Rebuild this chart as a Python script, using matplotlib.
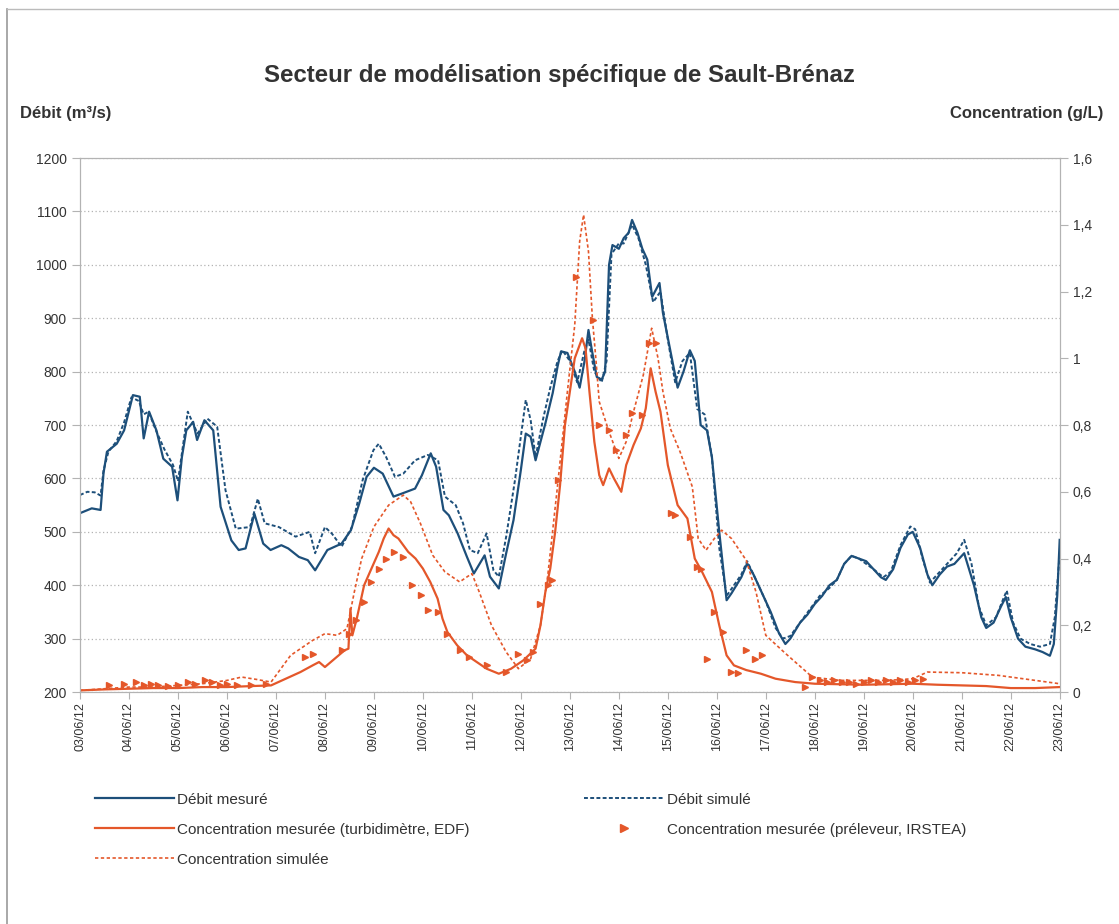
import numpy as np
import pandas as pd
import matplotlib
matplotlib.use('Agg')
import matplotlib.pyplot as plt
import matplotlib.dates as mdates
from matplotlib.ticker import FuncFormatter, MultipleLocator
from matplotlib.lines import Line2D

plt.rcParams['font.family'] = ['Liberation Sans', 'DejaVu Sans']

# --- data (days after 03/06/2012) ---
start = pd.Timestamp('2012-06-03')

q_mes_d = [0.00, 0.24, 0.42, 0.48, 0.55, 0.75, 0.90, 1.08, 1.22, 1.30, 1.41, 1.56, 1.70, 1.88, 1.99,
           2.08, 2.17, 2.31, 2.39, 2.54, 2.72, 2.87, 3.09, 3.24, 3.38, 3.56, 3.74, 3.89, 4.11, 4.25,
           4.47, 4.65, 4.80, 5.05, 5.34, 5.53, 5.70, 5.85, 6.00, 6.18, 6.40, 6.58, 6.84, 6.98, 7.16,
           7.27, 7.42, 7.53, 7.71, 7.90, 8.04, 8.26, 8.37, 8.55, 8.70, 8.85, 9.00, 9.10, 9.20, 9.30,
           9.50, 9.65, 9.75, 9.82, 9.95, 10.10, 10.20, 10.30, 10.38, 10.45, 10.55,
           10.65, 10.72, 10.80, 10.87, 11.00, 11.10, 11.20, 11.27, 11.38, 11.48, 11.58, 11.68, 11.83,
           11.90, 12.05, 12.20, 12.32, 12.45, 12.55, 12.67, 12.80, 12.90, 13.05, 13.20, 13.30, 13.40,
           13.50, 13.62, 13.75, 13.95, 14.10, 14.27, 14.40, 14.50, 14.70, 14.85, 15.00, 15.15, 15.30,
           15.45, 15.60, 15.75, 15.90, 16.05, 16.20, 16.35, 16.45, 16.60, 16.75, 16.90, 17.00, 17.15,
           17.30, 17.40, 17.55, 17.70, 17.85, 18.00, 18.05, 18.25, 18.40, 18.50, 18.65, 18.80, 18.90,
           19.00, 19.15, 19.30, 19.50, 19.65, 19.80, 19.88, 19.95, 20.00]
q_mes = [535, 544, 541, 610, 650, 665, 690, 756, 753, 675, 725, 690, 637, 622, 559,
         640, 690, 706, 672, 709, 690, 547, 484, 466, 469, 534, 478, 466, 475, 469,
         453, 447, 428, 466, 478, 503, 553, 603, 620, 609, 566, 572, 581, 606, 647,
         622, 541, 531, 497, 453, 422, 456, 416, 394, 460, 522, 616, 684, 678, 634,
         703, 760, 810, 838, 835, 800, 770, 820, 878, 840, 790,
         785, 800, 1000, 1037, 1030, 1050, 1060, 1084, 1060, 1030, 1010, 940, 966,
         910, 840, 770, 800, 840, 820, 700, 690, 640, 500, 372, 385, 400,
         415, 441, 420, 380, 350, 310, 290, 300, 330, 345, 365, 380, 400,
         410, 440, 455, 450, 445, 430, 415, 410, 430, 470, 495, 500, 470,
         420, 400, 420, 435, 440, 455, 460, 400, 340, 320, 330, 360, 378,
         340, 300, 285, 280, 275, 268, 290, 380, 485]

q_sim_d = [0.00, 0.15, 0.30, 0.42, 0.48, 0.58, 0.75, 0.90, 1.05, 1.20, 1.30, 1.40, 1.55, 1.72, 1.90,
           2.00, 2.10, 2.20, 2.40, 2.60, 2.80, 2.97, 3.18, 3.47, 3.63, 3.77, 4.06, 4.40, 4.69, 4.80,
           5.00, 5.14, 5.34, 5.55, 5.77, 5.99, 6.10, 6.25, 6.43, 6.60, 6.84, 7.10, 7.31, 7.45, 7.67,
           7.82, 7.96, 8.12, 8.30, 8.44, 8.55, 8.70, 8.88, 9.10, 9.20, 9.30, 9.45, 9.60, 9.75, 9.85,
           10.00, 10.15, 10.30, 10.38, 10.50, 10.65, 10.75, 10.85, 11.00, 11.10, 11.27, 11.40, 11.55,
           11.70, 11.85, 12.00, 12.15, 12.30, 12.45, 12.60, 12.75, 12.90, 13.05, 13.20, 13.35, 13.50,
           13.62, 13.80, 14.00, 14.20, 14.35, 14.50, 14.70, 14.90, 15.10, 15.30, 15.45, 15.60, 15.75,
           15.90, 16.05, 16.20, 16.40, 16.55, 16.75, 16.95, 17.05, 17.20, 17.35, 17.50, 17.70, 17.90,
           18.05, 18.20, 18.35, 18.50, 18.70, 18.85, 18.92, 19.05, 19.20, 19.40, 19.60, 19.80, 19.90,
           20.00]
q_sim = [569, 575, 574, 568, 615, 650, 670, 705, 752, 745, 720, 725, 690, 655, 625,
         595, 660, 725, 684, 712, 697, 578, 506, 509, 562, 516, 509, 491, 500, 460,
         509, 497, 472, 509, 597, 653, 665, 640, 603, 609, 634, 644, 634, 566, 550,
         516, 466, 460, 497, 428, 416, 491, 597, 747, 709, 640, 710, 770, 820, 840,
         820, 780, 840, 860, 800, 780, 820, 1020, 1040, 1040, 1075, 1050, 1000,
         930, 950, 860, 780, 820, 835, 730, 720, 640, 470, 380, 400, 420,
         445, 410, 370, 320, 300, 305, 330, 355, 380, 395, 410, 440, 455,
         450, 440, 430, 415, 425, 475, 510, 505, 450, 405, 420, 440, 460,
         485, 440, 360, 325, 340, 375, 390, 330, 300, 290, 285, 290, 340,
         460]

c_mes_d = [0.0, 0.5, 1.0, 1.5, 2.0, 2.5, 3.0, 3.5, 3.9, 4.2, 4.5, 4.75, 4.88, 5.0, 5.2, 5.4, 5.48,
           5.52, 5.56, 5.65, 5.8, 5.95, 6.1, 6.2, 6.3, 6.4, 6.5, 6.6, 6.7, 6.85, 7.0, 7.15, 7.3,
           7.4, 7.5, 7.7, 7.9, 8.1, 8.3, 8.55, 8.8, 9.05, 9.3, 9.4, 9.5, 9.6, 9.7, 9.8, 9.9, 10.0,
           10.1, 10.25, 10.32, 10.4, 10.5, 10.6, 10.68, 10.8, 10.9, 11.05, 11.15, 11.3, 11.45,
           11.55, 11.65, 11.75, 11.85, 12.0, 12.2, 12.4, 12.55, 12.7, 12.9, 13.05, 13.2, 13.35,
           13.6, 13.9, 14.2, 14.6, 15.0, 16.0, 17.0, 17.5, 18.0, 18.5, 19.0, 19.5, 20.0]
c_mes = [0.005, 0.008, 0.01, 0.012, 0.012, 0.015, 0.015, 0.018, 0.02, 0.04, 0.06, 0.08, 0.09,
         0.075, 0.1, 0.125, 0.13, 0.25, 0.17, 0.22, 0.32, 0.37, 0.42, 0.46, 0.49, 0.47, 0.46,
         0.44, 0.42, 0.40, 0.37, 0.33, 0.28, 0.22, 0.18, 0.14, 0.11, 0.09, 0.07, 0.055, 0.07,
         0.095, 0.13, 0.2, 0.3, 0.37, 0.48, 0.62, 0.8, 0.9, 1.0, 1.06, 1.03, 0.9, 0.75, 0.65,
         0.62, 0.67, 0.64, 0.6, 0.68, 0.74, 0.79, 0.85, 0.97, 0.9, 0.84, 0.68, 0.56, 0.52, 0.4,
         0.36, 0.3, 0.2, 0.11, 0.08, 0.066, 0.055, 0.04, 0.03, 0.025, 0.022, 0.025, 0.022, 0.02,
         0.018, 0.012, 0.012, 0.015]

c_sim_d = [0.0, 0.5, 1.0, 1.5, 2.0, 2.5, 3.0, 3.3, 3.6, 3.9, 4.1, 4.3, 4.5, 4.75, 5.0, 5.25, 5.45,
           5.6, 5.75, 6.0, 6.3, 6.6, 6.75, 6.95, 7.2, 7.45, 7.75, 8.0, 8.15, 8.4, 8.7, 8.95, 9.2,
           9.4, 9.55, 9.75, 9.95, 10.1, 10.2, 10.28, 10.38, 10.46, 10.53, 10.6, 10.8, 11.0, 11.15,
           11.3, 11.5, 11.67, 11.8, 11.9, 12.05, 12.25, 12.5, 12.62, 12.78, 12.95, 13.1, 13.3,
           13.6, 13.8, 14.0, 14.4, 14.95, 15.5, 16.5, 17.0, 17.3, 18.0, 18.75, 19.5, 20.0]
c_sim = [0.005, 0.01, 0.015, 0.015, 0.02, 0.025, 0.035, 0.045, 0.038, 0.03, 0.07, 0.11, 0.13,
         0.155, 0.175, 0.17, 0.19, 0.3, 0.4, 0.495, 0.56, 0.59, 0.57, 0.505, 0.41, 0.36, 0.33,
         0.355, 0.3, 0.2, 0.12, 0.07, 0.1, 0.2, 0.35, 0.62, 0.9, 1.1, 1.35, 1.43, 1.32, 1.12,
         1.0, 0.87, 0.78, 0.7, 0.75, 0.84, 0.95, 1.09, 1.0, 0.9, 0.79, 0.72, 0.615, 0.46,
         0.425, 0.46, 0.485, 0.46, 0.395, 0.3, 0.17, 0.116, 0.045, 0.035, 0.035, 0.04, 0.06,
         0.058, 0.05, 0.035, 0.025]

c_prel_d = [0.6, 0.9, 1.15, 1.3, 1.45, 1.6, 1.8, 2.0, 2.2, 2.35, 2.55, 2.7, 2.85, 3.0, 3.2, 3.5,
            3.8, 4.6, 4.75, 5.35, 5.5, 5.63, 5.8, 5.95, 6.1, 6.25, 6.4, 6.6, 6.78, 6.97, 7.1, 7.3,
            7.5, 7.75, 7.95, 8.3, 8.7, 8.95, 9.12, 9.25, 9.4, 9.55, 9.63, 9.76, 10.12, 10.47,
            10.6, 10.8, 10.95, 11.15, 11.27, 11.47, 11.62, 11.76, 12.07, 12.15, 12.45, 12.6,
            12.67, 12.8, 12.95, 13.12, 13.3, 13.43, 13.6, 13.77, 13.93, 14.8, 14.95, 15.1, 15.25,
            15.4, 15.55, 15.7, 15.85, 16.0, 16.15, 16.3, 16.45, 16.6, 16.75, 16.9, 17.05, 17.2]
c_prel = [0.02, 0.025, 0.03, 0.02, 0.025, 0.02, 0.018, 0.02, 0.03, 0.025, 0.035, 0.03, 0.02,
          0.025, 0.02, 0.02, 0.025, 0.105, 0.115, 0.125, 0.175, 0.215, 0.27, 0.33, 0.37, 0.4,
          0.42, 0.405, 0.32, 0.29, 0.245, 0.24, 0.175, 0.126, 0.105, 0.08, 0.06, 0.115, 0.095,
          0.12, 0.265, 0.32, 0.335, 0.635, 1.245, 1.115, 0.8, 0.785, 0.725, 0.77, 0.835, 0.83,
          1.045, 1.045, 0.535, 0.53, 0.465, 0.375, 0.37, 0.1, 0.24, 0.18, 0.06, 0.057, 0.126,
          0.098, 0.11, 0.015, 0.045, 0.035, 0.03, 0.035, 0.03, 0.03, 0.025, 0.03, 0.035, 0.03,
          0.035, 0.03, 0.035, 0.03, 0.035, 0.04]

def to_dates(days):
    return start + pd.to_timedelta(np.asarray(days), unit='D')

blue = '#1d4f7a'
orange = '#e4572a'
grey = '#b3b3b3'
txt = '#333333'

fig = plt.figure(figsize=(11.19, 9.24), dpi=100)
ax = fig.add_axes([0.0715, 0.251, 0.8755, 0.578])
ax2 = ax.twinx()

ax.plot(to_dates(q_mes_d), q_mes, color=blue, lw=1.6)
ax.plot(to_dates(q_sim_d), q_sim, color=blue, lw=1.4, ls=(0, (2, 1.2)))
ax2.plot(to_dates(c_mes_d), c_mes, color=orange, lw=1.6)
ax2.plot(to_dates(c_sim_d), c_sim, color=orange, lw=1.2, ls=(0, (2, 1.5)))
ax2.plot(to_dates(c_prel_d), c_prel, ls='none', marker='>', ms=4.5, color=orange, mec=orange)

ax.set_xlim(start, start + pd.Timedelta(days=20))
ax.set_ylim(200, 1200)
ax2.set_ylim(0, 1.6)
ax.yaxis.set_major_locator(MultipleLocator(100))
ax2.yaxis.set_major_locator(MultipleLocator(0.2))
ax2.yaxis.set_major_formatter(FuncFormatter(lambda v, p: f'{v:g}'.replace('.', ',')))
ax.xaxis.set_major_locator(mdates.DayLocator())
ax.xaxis.set_major_formatter(mdates.DateFormatter('%d/%m/%y'))
for lab in ax.get_xticklabels():
    lab.set_rotation(90)

ax.grid(axis='y', color=grey, ls=(0, (1, 2)), lw=0.9)
for a in (ax, ax2):
    for s in a.spines.values():
        s.set_color(grey)
    a.tick_params(colors=grey, labelcolor=txt, labelsize=10, length=6, width=0.8)
ax.tick_params(axis='x', labelsize=9, length=5, pad=2)

fig.text(0.5, 0.918, 'Secteur de modélisation spécifique de Sault-Brénaz', ha='center', va='center',
         fontsize=17.3, fontweight='bold', color=txt)
fig.text(0.018, 0.877, 'Débit (m³/s)', ha='left', va='center', fontsize=12, fontweight='bold', color=txt)
fig.text(0.986, 0.877, 'Concentration (g/L)', ha='right', va='center', fontsize=12, fontweight='bold', color=txt)

# outer frame (left / top edges)
fig.add_artist(Line2D([0.0063, 0.0063], [0.0, 0.990], transform=fig.transFigure, color='#999999', lw=1.2))
fig.add_artist(Line2D([0.0063, 1.0], [0.990, 0.990], transform=fig.transFigure, color='#bbbbbb', lw=1.0))

h_qm = Line2D([], [], color=blue, lw=1.6)
h_qs = Line2D([], [], color=blue, lw=1.4, ls=(0, (2, 1.2)))
h_cm = Line2D([], [], color=orange, lw=1.6)
h_cs = Line2D([], [], color=orange, lw=1.2, ls=(0, (2, 1.5)))
h_cp = Line2D([], [], ls='none', marker='>', ms=6, color=orange)
fig.legend([h_qm, h_cm, h_cs, h_qs, h_cp],
           ['Débit mesuré', 'Concentration mesurée (turbidimètre, EDF)', 'Concentration simulée',
            'Débit simulé', 'Concentration mesurée (préleveur, IRSTEA)'],
           loc='upper left', bbox_to_anchor=(0.0725, 0.157), ncol=2, frameon=False,
           fontsize=11, handlelength=5.2, handletextpad=0.2, columnspacing=7.5,
           labelspacing=1.05, labelcolor=txt)

fig.savefig('out.png', dpi=100)
